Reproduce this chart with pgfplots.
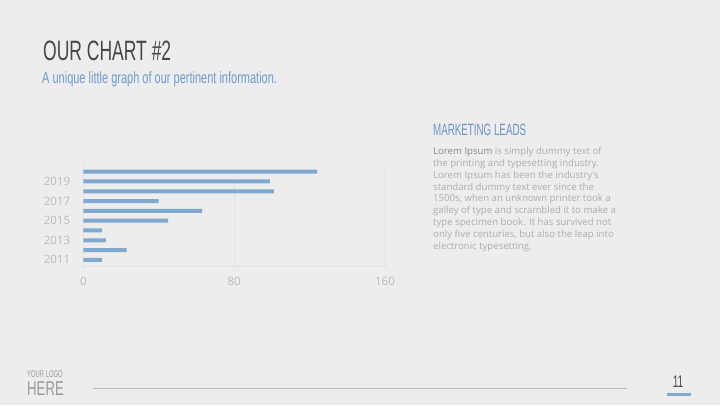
\documentclass[border=0pt]{standalone}
\usepackage{pgfplots}
\pgfplotsset{compat=1.18}
\usepackage{fontspec}
\setmainfont{Open Sans}
\newfontfamily\cond[FakeStretch=0.6]{Liberation Sans}
\newfontfamily\condt[FakeStretch=0.625]{Liberation Sans}
\newfontfamily\conds[FakeStretch=0.675]{Liberation Sans}
\newfontfamily\condh[FakeStretch=0.66]{Liberation Sans}
\definecolor{bg}{HTML}{EDEDED}
\definecolor{barc}{HTML}{80A9D0}
\definecolor{gridc}{HTML}{E2E2E2}
\definecolor{tickc}{HTML}{BABABA}
\definecolor{titlec}{HTML}{474747}
\definecolor{subc}{HTML}{6F9BCB}
\definecolor{headc}{HTML}{6894C6}
\definecolor{bodyc}{HTML}{ADADAD}
\definecolor{bodydark}{HTML}{8A8A8A}
\definecolor{footc}{HTML}{9A9A9A}
\definecolor{linec}{HTML}{BDBDBD}
\begin{document}
\begin{tikzpicture}
\useasboundingbox (0pt,0pt) rectangle (720pt,-405pt);
\begin{scope}[x=1pt,y=-1pt]
\fill[bg] (0,0) rectangle (720,405);
\node[anchor=base west, inner sep=0pt, text=titlec] at (43,60) {\condt\fontsize{28}{28}\selectfont OUR CHART \#2};
\node[anchor=base west, inner sep=0pt, text=subc] at (42,83) {\conds\fontsize{16.3}{16.3}\selectfont A unique little graph of our pertinent information.};
\node[anchor=base west, inner sep=0pt, text=headc] at (433,135) {\cond\fontsize{16.3}{16.3}\selectfont MARKETING LEADS};
\begin{scope}[every node/.style={anchor=base west, inner sep=0pt, text=bodyc, font=\fontsize{9.6}{9.6}\selectfont}]
\node at (433,154.3) {\textcolor{bodydark}{Lorem Ipsum} is simply dummy text of};
\node at (433,166.2) {the printing and typesetting industry.};
\node at (433,178.1) {Lorem Ipsum has been the industry's};
\node at (433,190.0) {standard dummy text ever since the};
\node at (433,201.9) {1500s, when an unknown printer took a};
\node at (433,213.8) {galley of type and scrambled it to make a};
\node at (433,225.7) {type specimen book. It has survived not};
\node at (433,237.6) {only five centuries, but also the leap into};
\node at (433,249.5) {electronic typesetting.};
\end{scope}
\node[anchor=base west, inner sep=0pt, text=footc] at (27,377) {\cond\fontsize{9.8}{9.8}\selectfont YOUR LOGO};
\node[anchor=base west, inner sep=0pt, text=footc] at (27,395) {\condh\fontsize{20}{20}\selectfont HERE};
\draw[linec, line width=1.5pt] (93,388.5) -- (627,388.5);
\node[anchor=base, inner sep=0pt, text=titlec] at (678,387) {\cond\fontsize{16.8}{16.8}\selectfont 11};
\draw[barc, line width=2.5pt] (667,394.5) -- (691,394.5);
\end{scope}
\begin{axis}[
  at={(83.3pt,-266.7pt)}, anchor=south west,
  scale only axis, width=301.7pt, height=101.9pt,
  xmin=0, xmax=160, ymin=2010.3, ymax=2020.7,
  xbar, bar width=4pt, bar shift=0pt,
  xtick={0,80,160}, ytick={2011,2013,2015,2017,2019},
  major tick length=0pt,
  xmajorgrids, grid style={draw=gridc, line width=0.8pt},
  axis x line*=bottom, axis y line*=left,
  x axis line style={-, draw=gridc, line width=0.8pt},
  y axis line style={draw=none},
  /pgf/number format/1000 sep={},
  /pgf/number format/assume math mode=true,
  ticklabel style={font=\fontsize{11.5}{11.5}\selectfont, text=tickc},
  xticklabel style={anchor=north, inner sep=0pt, yshift=-10pt},
  yticklabel style={anchor=east, inner sep=0pt, xshift=-13pt},
]
\addplot[fill=barc, draw=none] coordinates {(10,2011) (23,2012) (12,2013) (10,2014) (45,2015) (63,2016) (40,2017) (101,2018) (99,2019) (124,2020)};
\end{axis}
\end{tikzpicture}
\end{document}
